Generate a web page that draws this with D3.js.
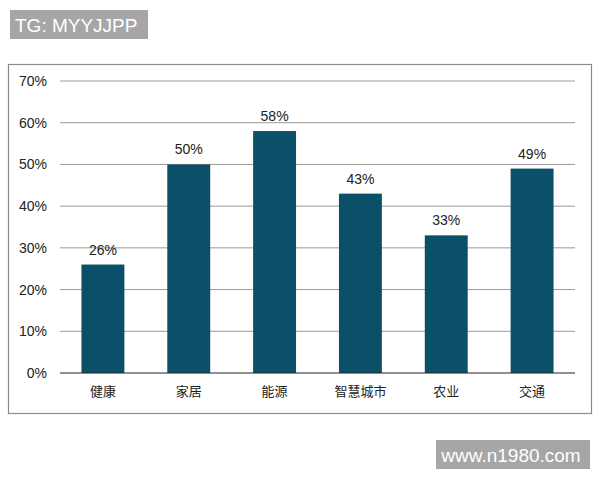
<!DOCTYPE html>
<html>
<head>
<meta charset="utf-8">
<script src="https://cdn.jsdelivr.net/npm/d3@7"></script>
<style>
  body { margin: 0; background: #fff; }
  svg { display: block; font-family: "Liberation Sans", Arial, sans-serif; }
</style>
</head>
<body>
<svg width="600" height="480"></svg>
<script>
const categories = ['健康', '家居', '能源', '智慧城市', '农业', '交通'];
const values = [26, 50, 58, 43, 33, 49];
const tickValues = [0, 10, 20, 30, 40, 50, 60, 70];

const svg = d3.select('svg');
const cjk = '"Noto Sans CJK SC", sans-serif';

// top-left tag
svg.append('rect')
  .attr('x', 10).attr('y', 10).attr('width', 138).attr('height', 29)
  .attr('fill', '#a6a6a6');
svg.append('text')
  .attr('x', 15).attr('y', 32)
  .attr('fill', '#fff')
  .style('font-size', '19px')
  .text('TG: MYYJJPP');

// chart frame
svg.append('rect')
  .attr('x', 8.5).attr('y', 64.5).attr('width', 583).attr('height', 349)
  .attr('fill', '#fff')
  .attr('stroke', '#8c8c8c')
  .attr('stroke-width', 1.2);

const x = d3.scaleBand()
  .domain(categories)
  .range([60, 575])
  .paddingInner(0.5)
  .paddingOuter(0.25);

const y = d3.scaleLinear()
  .domain([0, 70])
  .range([373, 81]);

// gridlines
svg.append('g')
  .selectAll('line')
  .data(tickValues.filter(d => d > 0))
  .join('line')
  .attr('x1', 60).attr('x2', 575)
  .attr('y1', d => y(d)).attr('y2', d => y(d))
  .attr('stroke', '#9a9a9a')
  .attr('stroke-width', 1);

// y axis labels
const yAxis = svg.append('g')
  .attr('transform', 'translate(47,0)')
  .call(d3.axisLeft(y).tickValues(tickValues).tickFormat(d => d + '%').tickSize(0).tickPadding(0));
yAxis.select('.domain').remove();
yAxis.selectAll('text')
  .style('font-size', '14px')
  .style('font-family', '"Liberation Sans", Arial, sans-serif')
  .attr('fill', '#222');

// bars
svg.append('g')
  .selectAll('rect')
  .data(values)
  .join('rect')
  .attr('x', (d, i) => x(categories[i]))
  .attr('width', x.bandwidth())
  .attr('y', d => y(d))
  .attr('height', d => y(0) - y(d))
  .attr('fill', '#0b5069');

// value labels
svg.append('g')
  .selectAll('text')
  .data(values)
  .join('text')
  .attr('x', (d, i) => x(categories[i]) + x.bandwidth() / 2)
  .attr('y', d => y(d) - 10)
  .attr('text-anchor', 'middle')
  .attr('fill', '#222')
  .style('font-size', '14px')
  .text(d => d + '%');

// baseline
svg.append('line')
  .attr('x1', 60).attr('x2', 575)
  .attr('y1', y(0)).attr('y2', y(0))
  .attr('stroke', '#222')
  .attr('stroke-width', 1.2);

// x axis labels
const xAxis = svg.append('g')
  .attr('transform', `translate(0,${y(0)})`)
  .call(d3.axisBottom(x).tickSize(0).tickPadding(14));
xAxis.select('.domain').remove();
xAxis.selectAll('text')
  .style('font-size', '13px')
  .style('font-family', cjk)
  .attr('fill', '#222');

// bottom-right watermark
svg.append('rect')
  .attr('x', 436).attr('y', 440).attr('width', 154).attr('height', 29)
  .attr('fill', '#a6a6a6');
svg.append('text')
  .attr('x', 511).attr('y', 462)
  .attr('text-anchor', 'middle')
  .attr('fill', '#fff')
  .style('font-size', '19px')
  .text('www.n1980.com');
</script>
</body>
</html>
